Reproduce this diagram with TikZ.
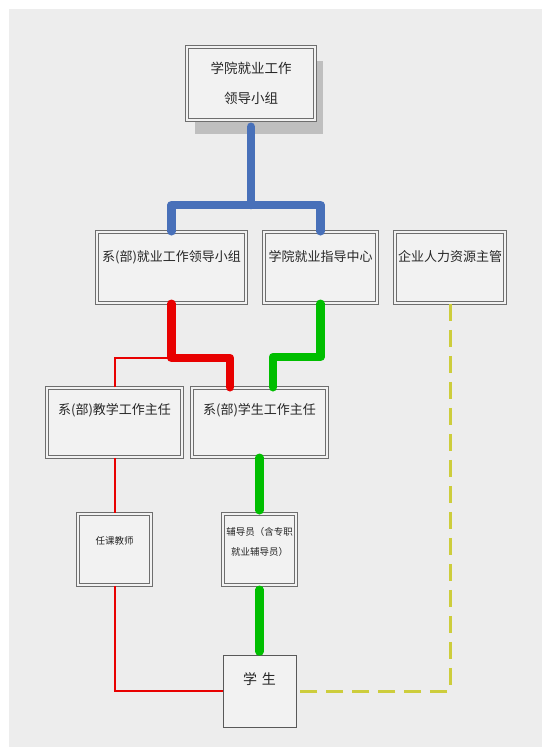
\documentclass[tikz,border=0pt]{standalone}
\usepackage{fontspec}
\newfontfamily\cjk{Noto Sans CJK SC}
\usetikzlibrary{shadows}
\definecolor{bgc}{RGB}{237,237,237}
\definecolor{boxfill}{RGB}{242,242,242}
\definecolor{boxline}{RGB}{110,110,110}
\definecolor{cblue}{RGB}{72,112,185}
\definecolor{cred}{RGB}{232,0,0}
\definecolor{cgreen}{RGB}{0,190,0}
\definecolor{cyel}{RGB}{205,205,60}
\tikzset{
  box/.style={draw=boxline, double=boxfill, double distance=1.4pt, line width=1.5pt,
    fill=boxfill, inner sep=0pt},
  plainbox/.style={draw=black!65, line width=1pt, fill=boxfill, inner sep=0pt},
  txt/.style={font=\cjk\fontsize{13}{15}\selectfont, text=black!85, inner sep=0pt, align=center},
  smalltxt/.style={font=\cjk\fontsize{9.5}{20}\selectfont, text=black!85, inner sep=0pt, align=center},
  thick line/.style={line width=8.5pt, line cap=round, line join=round},
  thin red/.style={draw=cred, line width=2pt},
  yel/.style={draw=cyel, line width=3pt, dash pattern=on 17pt off 9pt}
}
\begin{document}
\begin{tikzpicture}[x=1pt,y=-1pt]
\useasboundingbox (0,0) rectangle (542,747);
\fill[white] (0,0) rectangle (542,747);
\fill[bgc] (9,9) rectangle (542,747);
% boxes
\node[box, minimum width=128pt, minimum height=73pt,
  drop shadow={shadow xshift=8pt, shadow yshift=-14pt, fill=black!25, opacity=1}] (b1) at (251,83.5) {};
\node[box, minimum width=149pt, minimum height=71pt] (b2) at (171.5,267.5) {};
\node[box, minimum width=113pt, minimum height=71pt] (b3) at (320.5,267.5) {};
\node[box, minimum width=110pt, minimum height=71pt] (b4) at (450,267.5) {};
\node[box, minimum width=135pt, minimum height=69pt] (b5) at (114.5,422.5) {};
\node[box, minimum width=135pt, minimum height=69pt] (b6) at (259.5,422.5) {};
\node[box, minimum width=73pt, minimum height=71pt] (b7) at (114.5,549.5) {};
\node[box, minimum width=73pt, minimum height=71pt] (b8) at (259.5,549.5) {};
\node[plainbox, minimum width=73pt, minimum height=72pt] (b9) at (259.5,691) {};
% texts
\node[txt, font=\cjk\fontsize{13.5}{30}\selectfont] (t1) at (251,83.5) {学院就业工作\\领导小组};
\node[txt] (t2) at (171.5,257) {系(部)就业工作领导小组};
\node[txt] (t3) at (320.5,257) {学院就业指导中心};
\node[txt] (t4) at (450,257) {企业人力资源主管};
\node[txt] (t5) at (114.5,410) {系(部)教学工作主任};
\node[txt] (t6) at (259.5,410) {系(部)学生工作主任};
\node[smalltxt] (t7) at (114.5,541) {任课教师};
\node[smalltxt] (t8) at (259.5,542) {辅导员（含专职\\就业辅导员）};
\node[txt, font=\cjk\fontsize{14}{16}\selectfont] (t9) at (259.5,679) {学\,\,生};
% connectors
\coordinate (bj) at (251,205);
\coordinate (rj) at (171.5,358);
\coordinate (gj) at (320.5,357);
\draw[cblue, thick line] ([yshift=-6pt]b1.south) -- (bj);
\draw[cblue, thick line] (b2.north) |- (bj) -| (b3.north);
\draw[thin red] (b5.north) |- (rj);
\draw[cred, thick line] (b2.south) -- (rj) -| ([xshift=-29.5pt]b6.north);
\draw[cgreen, thick line] (b3.south) -- (gj) -| ([xshift=13.5pt]b6.north);
\draw[thin red] (b5.south) -- (b7.north);
\draw[thin red] (b7.south) |- (b9.west);
\draw[cgreen, thick line] (b6.south) -- ([yshift=3pt]b8.north);
\draw[cgreen, thick line] ([yshift=-4pt]b8.south) -- ([yshift=3pt]b9.north);
\draw[yel] (b4.south) |- (b9.east);
\end{tikzpicture}
\end{document}
